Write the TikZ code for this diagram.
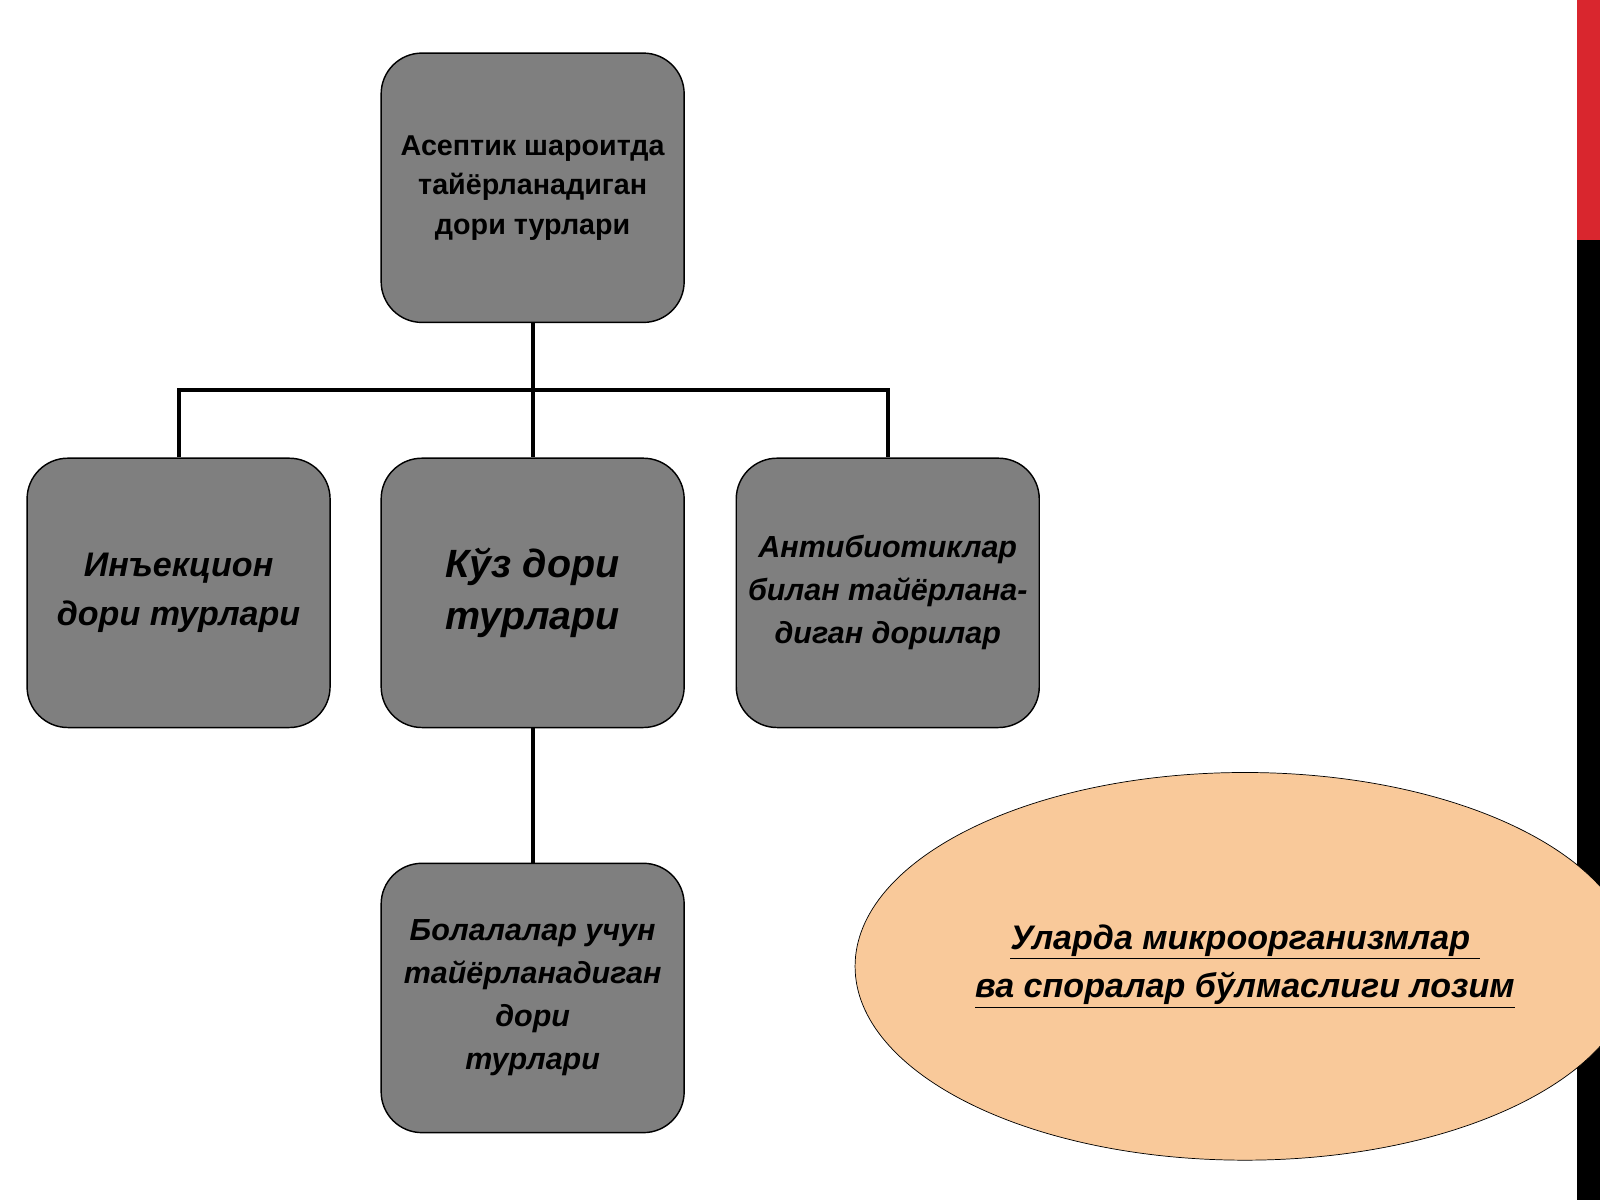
\documentclass[tikz,border=0pt]{standalone}
\usepackage{fontspec}
\setmainfont{Liberation Sans}
\usetikzlibrary{shapes.geometric}
\definecolor{boxgray}{HTML}{7F7F7F}
\definecolor{peach}{HTML}{F9C99A}
\definecolor{barred}{HTML}{D9262E}
\tikzset{
  box/.style={rectangle, rounded corners=0.8cm, draw=black, thick, fill=boxgray,
    minimum width=5.94cm, minimum height=5.28cm, align=center, font=\bfseries},
  link/.style={line width=2.2pt}
}
\begin{document}
\begin{tikzpicture}[x=0.02cm, y=-0.02cm]

    \useasboundingbox (0,0) rectangle (1568,1176);
    \fill[barred] (1545,0) rectangle (1568,235);
    \fill[black] (1545,235) rectangle (1568,1176);

    \node[box, font=\bfseries\fontsize{16}{22}\selectfont] (top) at (522,184) {Асептик шароитда\\тайёрланадиган\\дори турлари};
    \node[box, font=\bfseries\itshape\fontsize{19}{27}\selectfont] (inj) at (175,581) {Инъекцион\\дори турлари};
    \node[box, font=\bfseries\itshape\fontsize{22}{29}\selectfont] (eye) at (522,581) {Кўз дори\\турлари};
    \node[box, font=\bfseries\itshape\fontsize{17}{24}\selectfont] (anti) at (870,581) {Антибиотиклар\\билан тайёрлана-\\диган дорилар};
    \node[box, font=\bfseries\itshape\fontsize{17}{24}\selectfont] (kids) at (522,978) {Болалалар учун\\тайёрланадиган\\дори\\турлари};
    \node[ellipse, draw=black, fill=peach, minimum width=13.8cm, minimum height=7.6cm,
      align=center, font=\bfseries\itshape\fontsize{19}{27}\selectfont] (note) at (1220,947)
      {\underline{Уларда микроорганизмлар\ }\\\underline{ва споралар бўлмаслиги лозим}};

    \coordinate (hub) at (522,382);
    \draw[link] (top) -- (hub);
    \draw[link] (inj.north) |- (hub) -| (anti.north);
    \draw[link] (hub) -- (eye);
    \draw[link] (eye) -- (kids);

\end{tikzpicture}
\end{document}
